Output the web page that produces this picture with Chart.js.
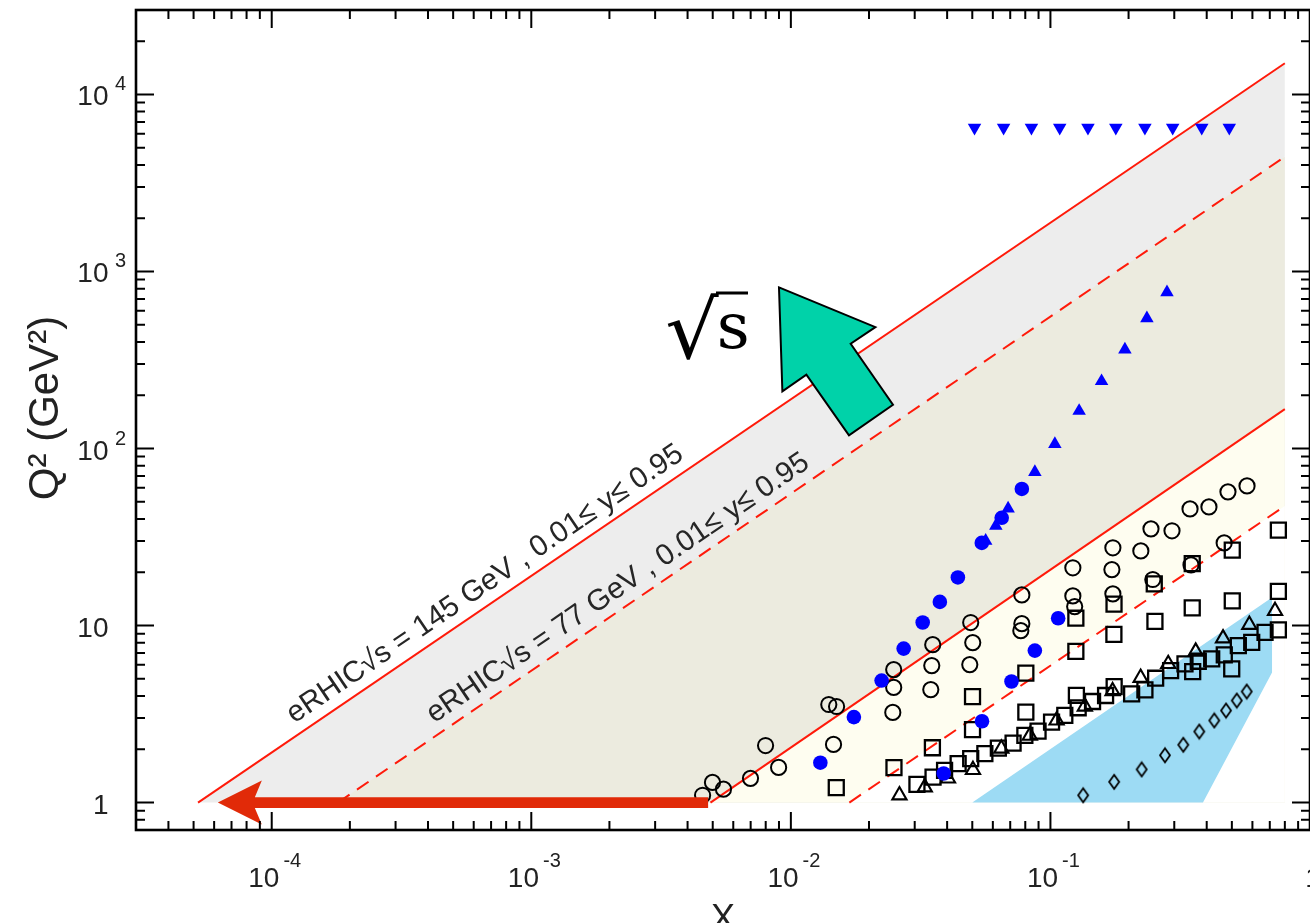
<!DOCTYPE html>
<html>
<head>
<meta charset="utf-8">
<script src="https://cdn.jsdelivr.net/npm/chart.js@4.4.0/dist/chart.umd.min.js"></script>
<style>
  html, body { margin: 0; padding: 0; background: #fff; }
  #wrap { width: 1310px; height: 923px; }
</style>
</head>
<body>
<div id="wrap"><canvas id="kin" width="1310" height="923"></canvas></div>
<script>
const FONT = '"Liberation Sans", Arial, Helvetica, sans-serif';

// axis ranges
const xMin = 3e-5, xMax = 1;
const yMin = 0.7, yMax = 30000;

// eRHIC kinematic limits, end points of each line
const s145HighX = [5.2e-5, 0.80];
const s145HighY = [1, 15000];
const s77HighX = [1.8e-4, 0.80];
const s77HighY = [1, 4450];
const s145LowX = [4.9e-3, 0.80];
const s145LowY = [1, 167];
const s77LowX = [0.0168, 0.80];
const s77LowY = [1, 47.4];

// fixed target region (light blue)
const fixedX = [0.05, 0.714, 0.714, 0.387, 0.05];
const fixedY = [1, 14.4, 5.43, 1, 1];

// open circles
const circX = [0.00457, 0.00499, 0.00550, 0.00699, 0.00799, 0.00897, 0.0140, 0.0150, 0.0146, 0.0247,
  0.0249, 0.0249, 0.0346, 0.0349, 0.0352, 0.0489, 0.0502, 0.0493, 0.0769, 0.0776,
  0.0776, 0.122, 0.124, 0.122, 0.1725, 0.174, 0.174, 0.223, 0.244, 0.248,
  0.294, 0.345, 0.348, 0.408, 0.467, 0.483, 0.572];
const circY = [1.10, 1.30, 1.19, 1.37, 2.10, 1.58, 3.58, 3.49, 2.13, 3.23,
  4.47, 5.64, 4.35, 5.94, 7.80, 6.02, 8.01, 10.4, 9.36, 10.25,
  14.9, 14.7, 12.8, 21.2, 20.7, 15.1, 27.5, 26.4, 35.2, 18.2,
  34.3, 45.6, 22.0, 46.8, 29.3, 56.9, 61.5];

// open squares
const sqX = [0.01496, 0.02496, 0.0351, 0.0501, 0.0501, 0.0804, 0.0804, 0.1259, 0.1253, 0.1253,
  0.1756, 0.1758, 0.2527, 0.2512, 0.3518, 0.3518, 0.5018, 0.5018, 0.7553, 0.7553,
  0.0306, 0.0353, 0.0391, 0.0441, 0.0493, 0.0559, 0.0630, 0.0718, 0.0797, 0.0896,
  0.1010, 0.1136, 0.1279, 0.1453, 0.1631, 0.1760, 0.2055, 0.2312, 0.2543, 0.2904,
  0.3299, 0.3532, 0.3712, 0.4181, 0.4675, 0.4994, 0.5295, 0.5963, 0.6711, 0.7553];
const sqY = [1.215, 1.575, 2.04, 2.58, 3.97, 3.24, 5.38, 4.03, 7.15, 11.0,
  8.92, 13.2, 10.55, 17.2, 12.6, 22.4, 13.8, 26.7, 15.6, 34.6,
  1.268, 1.394, 1.520, 1.659, 1.770, 1.889, 2.031, 2.168, 2.394, 2.533,
  2.847, 3.105, 3.432, 3.724, 4.025, 4.524, 4.115, 4.335, 5.040, 5.569,
  6.074, 5.497, 6.285, 6.482, 6.829, 5.692, 7.703, 8.041, 9.156, 9.445];

// open triangles
const triX = [0.0262, 0.0328, 0.0403, 0.0503, 0.0647, 0.0833, 0.1056, 0.1357, 0.1736, 0.2226,
  0.2843, 0.3627, 0.4623, 0.5838, 0.7334];
const triY = [1.10, 1.22, 1.37, 1.53, 2.02, 2.39, 2.91, 3.49, 4.26, 5.07,
  6.07, 7.13, 8.47, 10.1, 12.1];

// open diamonds
const diaX = [0.1337, 0.1760, 0.2246, 0.2762, 0.3249, 0.3745, 0.4279, 0.4749, 0.5222, 0.5705];
const diaY = [1.10, 1.31, 1.54, 1.85, 2.12, 2.52, 2.91, 3.31, 3.77, 4.24];

// blue filled circles
const bCircX = [0.01299, 0.01749, 0.02237, 0.0272, 0.0322, 0.0375, 0.0388, 0.0440, 0.0544, 0.0545,
  0.0649, 0.0708, 0.0776, 0.0871, 0.1071];
const bCircY = [1.68, 3.04, 4.89, 7.41, 10.4, 13.6, 1.46, 18.7, 29.3, 2.88,
  40.6, 4.83, 59.1, 7.22, 11.0];

// blue filled triangles
const bTriX = [0.0563, 0.0616, 0.0687, 0.0871, 0.1040, 0.1290, 0.1574, 0.1936, 0.2353, 0.2812];
const bTriY = [30.1, 36.6, 45.8, 73.7, 106, 163, 240, 362, 544, 762];

// blue inverted triangles
const bInvX = [0.0510, 0.0660, 0.0845, 0.1086, 0.1395, 0.1786, 0.2312, 0.2958, 0.3828, 0.4887];
const bInvY = [6500, 6500, 6500, 6500, 6500, 6500, 6500, 6500, 6500, 6500];

// tick labels: [value, base, exponent]
const xTickLabels = [[1e-4, '10', '-4'], [1e-3, '10', '-3'], [1e-2, '10', '-2'], [1e-1, '10', '-1'], [1, '1', '']];
const yTickLabels = [[1, '1', ''], [10, '10', ''], [100, '10', '2'], [1000, '10', '3'], [10000, '10', '4']];

// annotations
const arrowX = [4.8e-3, 6.2e-5];
const arrowY = 1;
const sqrtsArrowTip = [9.0e-3, 813];
const label145 = 'eRHIC\u221As = 145 GeV , 0.01\u2264 y\u2264 0.95';
const label77 = 'eRHIC\u221As = 77 GeV , 0.01\u2264 y\u2264 0.95';

function pts(xs, ys) { return xs.map((x, i) => ({ x: x, y: ys[i] })); }

// narrow diamond marker
const diamond = document.createElement('canvas');
diamond.width = 14; diamond.height = 18;
(function () {
  const d = diamond.getContext('2d');
  d.strokeStyle = '#000';
  d.lineWidth = 1.8;
  d.beginPath();
  d.moveTo(7, 2); d.lineTo(12, 9); d.lineTo(7, 16); d.lineTo(2, 9);
  d.closePath();
  d.stroke();
})();

function fitGlyph(ctx, txt, font, left, top, right, bottom) {
  ctx.font = '100px ' + font;
  const m = ctx.measureText(txt);
  const w = m.actualBoundingBoxLeft + m.actualBoundingBoxRight;
  const h = m.actualBoundingBoxAscent + m.actualBoundingBoxDescent;
  ctx.save();
  ctx.translate(left, top);
  ctx.scale((right - left) / w, (bottom - top) / h);
  ctx.textAlign = 'left';
  ctx.textBaseline = 'alphabetic';
  ctx.fillText(txt, m.actualBoundingBoxLeft, m.actualBoundingBoxAscent);
  ctx.restore();
}

function textAlongLine(chart, xs, ys, txt, along, above) {
  const ctx = chart.ctx;
  const x0 = chart.scales.x.getPixelForValue(xs[0]), y0 = chart.scales.y.getPixelForValue(ys[0]);
  const x1 = chart.scales.x.getPixelForValue(xs[1]), y1 = chart.scales.y.getPixelForValue(ys[1]);
  const ang = Math.atan2(y1 - y0, x1 - x0);
  ctx.save();
  ctx.translate(x0 + along * Math.cos(ang), y0 + along * Math.sin(ang));
  ctx.rotate(ang);
  ctx.font = '29.5px ' + FONT;
  ctx.fillStyle = '#262626';
  ctx.textAlign = 'left';
  ctx.textBaseline = 'alphabetic';
  ctx.fillText(txt, 0, -above);
  ctx.restore();
}

const annotations = {
  id: 'annotations',
  afterDatasetsDraw(chart) {
    const ctx = chart.ctx;
    const sx = chart.scales.x, sy = chart.scales.y;

    // red arrow along Q2 = 1
    const ax0 = sx.getPixelForValue(arrowX[0]);
    const ax1 = sx.getPixelForValue(arrowX[1]);
    const ay = sy.getPixelForValue(arrowY);
    ctx.save();
    ctx.fillStyle = '#e12a08';
    ctx.beginPath();
    ctx.moveTo(ax1, ay);
    ctx.lineTo(ax1 + 44, ay - 22);
    ctx.lineTo(ax1 + 37, ay - 5.3);
    ctx.lineTo(ax0, ay - 5.3);
    ctx.lineTo(ax0, ay + 5.3);
    ctx.lineTo(ax1 + 37, ay + 5.3);
    ctx.lineTo(ax1 + 44, ay + 22);
    ctx.closePath();
    ctx.fill();
    ctx.restore();

    // green sqrt(s) arrow
    const tx = sx.getPixelForValue(sqrtsArrowTip[0]);
    const ty = sy.getPixelForValue(sqrtsArrowTip[1]);
    const shape = [[0, 0], [96.4, 39.7], [71.7, 56.3], [114, 117.3], [70, 148], [27.4, 87.3], [3.4, 104]];
    ctx.save();
    ctx.beginPath();
    shape.forEach((p, i) => i === 0 ? ctx.moveTo(tx + p[0], ty + p[1]) : ctx.lineTo(tx + p[0], ty + p[1]));
    ctx.closePath();
    ctx.fillStyle = '#00d2a9';
    ctx.fill();
    ctx.lineWidth = 2;
    ctx.strokeStyle = '#000';
    ctx.lineJoin = 'miter';
    ctx.stroke();

    // sqrt(s) symbol
    ctx.fillStyle = '#000';
    fitGlyph(ctx, '\u221A', '"DejaVu Serif"', 667, 292, 719, 360);
    ctx.fillRect(716, 291.5, 32, 3);
    fitGlyph(ctx, 's', 'italic "Liberation Serif"', 720, 315, 747, 349);
    ctx.restore();

    textAlongLine(chart, s145HighX, s145HighY, label145, 124, 11);
    textAlongLine(chart, s77HighX, s77HighY, label77, 124, 11);
  },
  afterDraw(chart) {
    const ctx = chart.ctx;
    const a = chart.chartArea;
    const sx = chart.scales.x, sy = chart.scales.y;
    ctx.save();
    ctx.strokeStyle = '#000';
    ctx.lineWidth = 2.6;
    ctx.strokeRect(a.left, a.top, a.right - a.left, a.bottom - a.top);

    ctx.lineWidth = 2;
    ctx.beginPath();
    for (let d = -5; d <= 0; d++) {
      for (let m = 1; m <= 9; m++) {
        const v = m * Math.pow(10, d);
        if (v < xMin * 1.01 || v > xMax * 1.001) continue;
        const x = sx.getPixelForValue(v);
        const len = m === 1 ? 18 : 9;
        ctx.moveTo(x, a.bottom); ctx.lineTo(x, a.bottom - len);
        ctx.moveTo(x, a.top); ctx.lineTo(x, a.top + len);
      }
    }
    for (let d = -1; d <= 4; d++) {
      for (let m = 1; m <= 9; m++) {
        const v = m * Math.pow(10, d);
        if (v < yMin * 1.01 || v > yMax) continue;
        const y = sy.getPixelForValue(v);
        const len = m === 1 ? 18 : 9;
        ctx.moveTo(a.left, y); ctx.lineTo(a.left + len, y);
        ctx.moveTo(a.right, y); ctx.lineTo(a.right - len, y);
      }
    }
    ctx.stroke();

    // tick labels with superscripts
    ctx.fillStyle = '#222';
    ctx.textBaseline = 'alphabetic';
    ctx.textAlign = 'left';
    const baseFont = '28px ' + FONT, supFont = '20px ' + FONT;
    xTickLabels.forEach(([v, b, e]) => {
      ctx.font = baseFont;
      const wb = ctx.measureText(b).width;
      ctx.font = supFont;
      const we = e ? ctx.measureText(e).width + 4 : 0;
      const x0 = sx.getPixelForValue(v) + 3 - (wb + we) / 2;
      ctx.font = baseFont;
      ctx.fillText(b, x0, 887);
      if (e) { ctx.font = supFont; ctx.fillText(e, x0 + wb + 4, 867); }
    });
    yTickLabels.forEach(([v, b, e]) => {
      const y = sy.getPixelForValue(v) + 11;
      ctx.font = baseFont;
      ctx.textAlign = 'right';
      ctx.fillText(b, 108.5, y);
      if (e) { ctx.font = supFont; ctx.textAlign = 'left'; ctx.fillText(e, 115, y - 15); }
    });

    // axis titles
    ctx.textAlign = 'center';
    ctx.font = '36px ' + FONT;
    ctx.fillText('X', 723, 930);
    ctx.save();
    ctx.translate(58, 408);
    ctx.rotate(-Math.PI / 2);
    ctx.font = '42px ' + FONT;
    ctx.fillText('Q\u00B2 (GeV\u00B2)', 0, 0);
    ctx.restore();
    ctx.restore();
  }
};

const lineBase = { type: 'line', borderColor: '#ff1a0a', borderWidth: 2, pointRadius: 0, tension: 0 };
const open = { borderColor: '#000', backgroundColor: 'rgba(0,0,0,0)' };
const blue = { borderWidth: 0, borderColor: '#0000ff', backgroundColor: '#0000ff' };

new Chart(document.getElementById('kin'), {
  type: 'scatter',
  data: {
    datasets: [
      Object.assign({}, lineBase, { data: pts(s145HighX, s145HighY), fill: { value: 1 }, backgroundColor: '#ededed', order: 14 }),
      Object.assign({}, lineBase, { data: pts(s77HighX, s77HighY), borderDash: [14, 9], fill: { value: 1 }, backgroundColor: '#ecebdf', order: 13 }),
      Object.assign({}, lineBase, { data: pts(s145LowX, s145LowY), fill: { value: 1 }, backgroundColor: '#fefdf0', order: 12 }),
      Object.assign({}, lineBase, { data: pts(s77LowX, s77LowY), borderDash: [14, 9], fill: { value: 1 }, backgroundColor: '#ffffff', order: 11 }),
      { type: 'line', data: pts(fixedX, fixedY), borderColor: 'rgba(0,0,0,0)', borderWidth: 1, pointRadius: 0, fill: 'shape', backgroundColor: '#9ddbf4', order: 10 },
      Object.assign({ data: pts(circX, circY), pointStyle: 'circle', pointRadius: 7.6, borderWidth: 2, order: 6 }, open),
      Object.assign({ data: pts(sqX, sqY), pointStyle: 'rect', pointRadius: 10.6, borderWidth: 2.3, order: 5 }, open),
      Object.assign({ data: pts(triX, triY), pointStyle: 'triangle', pointRadius: 8.2, borderWidth: 2.1, order: 4 }, open),
      { data: pts(diaX, diaY), pointStyle: diamond, pointRadius: 7, order: 3 },
      Object.assign({ data: pts(bCircX, bCircY), pointStyle: 'circle', pointRadius: 7.3, order: 2 }, blue),
      Object.assign({ data: pts(bTriX, bTriY), pointStyle: 'triangle', pointRadius: 7.8, order: 1 }, blue),
      Object.assign({ data: pts(bInvX, bInvY), pointStyle: 'triangle', pointRotation: 180, pointRadius: 7.8, order: 0 }, blue)
    ]
  },
  options: {
    responsive: false,
    animation: false,
    events: [],
    layout: { autoPadding: false, padding: { top: 10, left: 0, right: 0, bottom: 0 } },
    scales: {
      x: { type: 'logarithmic', min: xMin, max: xMax, ticks: { display: false }, grid: { display: false }, border: { display: false },
           afterFit: s => { s.height = 93; } },
      y: { type: 'logarithmic', min: yMin, max: yMax, ticks: { display: false }, grid: { display: false }, border: { display: false },
           afterFit: s => { s.width = 136; } }
    },
    plugins: {
      legend: { display: false },
      tooltip: { enabled: false },
      filler: { drawTime: 'beforeDatasetsDraw' }
    }
  },
  plugins: [annotations]
});
</script>
</body>
</html>
